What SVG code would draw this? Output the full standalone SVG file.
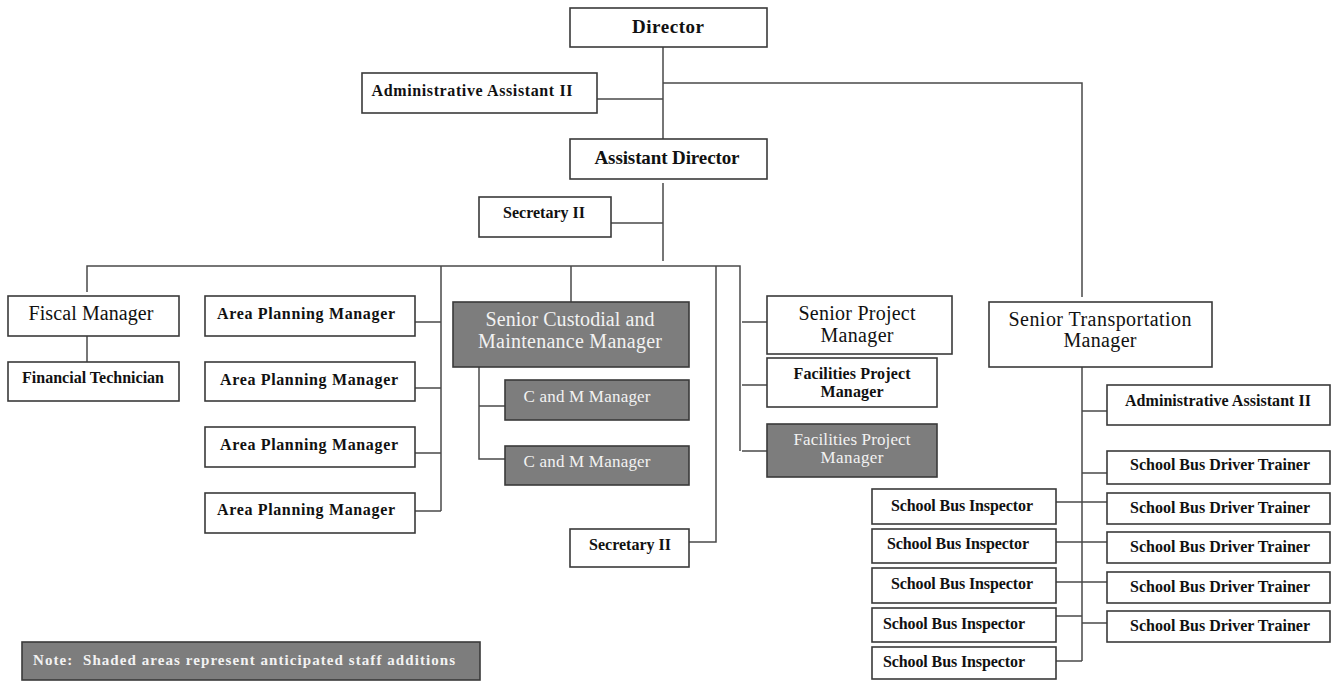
<svg xmlns="http://www.w3.org/2000/svg" width="1332" height="681" viewBox="0 0 1332 681">
<style>
.b{fill:#fff;stroke:#3a3a3a;stroke-width:1.6}
.s{fill:#7d7d7d;stroke:#3a3a3a;stroke-width:1.6}
.c{fill:none;stroke:#4a4a4a;stroke-width:1.5}
text{font-family:"Liberation Serif","Times New Roman",serif;text-anchor:middle;fill:#111}
.tb{font-weight:bold;font-size:16px}
.tl{font-size:20px}
.tw{fill:#f2f2f2}
</style>
<rect width="1332" height="681" fill="#fff"/>
<g id="connectors">
<path class="c" d="M663 47V139M597 99H663M663 83H1082V297"/>
<path class="c" d="M663 183V261M611 223H663"/>
<path class="c" d="M87 292V266H740V451"/>
<path class="c" d="M87 336V362"/>
<path class="c" d="M441 266V511M415 322H441M415 388H441M415 453H441M415 511H441"/>
<path class="c" d="M571 266V302M479 367V459H505M479 406H505"/>
<path class="c" d="M716 266V542H689"/>
<path class="c" d="M742 322H767M742 385H767M742 451H767"/>
<path class="c" d="M1082 367V661M1082 411H1107M1082 473H1107M1056 502H1107M1056 542H1107M1056 582H1107M1056 616H1082M1082 623H1107M1056 661H1082"/>
</g>
<g id="director"><rect class="b" x="570" y="8" width="197" height="39"/><text class="tb" style="font-size:19px" x="668" y="33" textLength="72">Director</text></g>
<g id="admin1"><rect class="b" x="362" y="73" width="235" height="40"/><text class="tb" x="472" y="96" textLength="201">Administrative Assistant II</text></g>
<g id="asstdir"><rect class="b" x="570" y="139" width="197" height="40"/><text class="tb" style="font-size:19px" x="667" y="164" textLength="145">Assistant Director</text></g>
<g id="sec1"><rect class="b" x="479" y="197" width="132" height="40"/><text class="tb" x="544" y="218" textLength="82">Secretary II</text></g>
<g id="fiscal"><rect class="b" x="8" y="296" width="171" height="40"/><text class="tl" x="91" y="320" textLength="125">Fiscal Manager</text></g>
<g id="fintech"><rect class="b" x="8" y="362" width="171" height="39"/><text class="tb" x="93" y="383" textLength="142">Financial Technician</text></g>
<g id="apm1"><rect class="b" x="205" y="296" width="210" height="40"/><text class="tb" x="306" y="319" textLength="178">Area Planning Manager</text></g>
<g id="apm2"><rect class="b" x="205" y="362" width="210" height="39"/><text class="tb" x="309" y="385" textLength="178">Area Planning Manager</text></g>
<g id="apm3"><rect class="b" x="205" y="427" width="210" height="40"/><text class="tb" x="309" y="450" textLength="178">Area Planning Manager</text></g>
<g id="apm4"><rect class="b" x="205" y="493" width="210" height="40"/><text class="tb" x="306" y="515" textLength="178">Area Planning Manager</text></g>
<g id="custodial"><rect class="s" x="453" y="302" width="236" height="65"/><text class="tl tw" x="570" y="326" textLength="169">Senior Custodial and</text><text class="tl tw" x="570" y="348" textLength="184">Maintenance Manager</text></g>
<g id="cm1"><rect class="s" x="505" y="380" width="184" height="40"/><text class="tw" style="font-size:17px" x="587" y="402" textLength="127">C and M Manager</text></g>
<g id="cm2"><rect class="s" x="505" y="446" width="184" height="39"/><text class="tw" style="font-size:17px" x="587" y="467" textLength="127">C and M Manager</text></g>
<g id="sec2"><rect class="b" x="570" y="529" width="119" height="38"/><text class="tb" x="630" y="550" textLength="82">Secretary II</text></g>
<g id="spm"><rect class="b" x="767" y="296" width="185" height="58"/><text class="tl" x="857" y="320" textLength="117">Senior Project</text><text class="tl" x="857" y="342" textLength="73">Manager</text></g>
<g id="fpm1"><rect class="b" x="767" y="358" width="170" height="49"/><text class="tb" x="852" y="379" textLength="117">Facilities Project</text><text class="tb" x="852" y="397" textLength="63">Manager</text></g>
<g id="fpm2"><rect class="s" x="767" y="424" width="170" height="53"/><text class="tw" style="font-size:17px" x="852" y="445" textLength="117">Facilities Project</text><text class="tw" style="font-size:17px" x="852" y="463" textLength="63">Manager</text></g>
<g id="stm"><rect class="b" x="989" y="302" width="223" height="65"/><text class="tl" x="1100" y="326" textLength="183">Senior Transportation</text><text class="tl" x="1100" y="347" textLength="73">Manager</text></g>
<g id="admin2"><rect class="b" x="1107" y="385" width="223" height="40"/><text class="tb" x="1218" y="406" textLength="186">Administrative Assistant II</text></g>
<g id="trainer1"><rect class="b" x="1107" y="451" width="223" height="33"/><text class="tb" x="1220" y="470" textLength="180">School Bus Driver Trainer</text></g>
<g id="trainer2"><rect class="b" x="1107" y="493" width="223" height="31"/><text class="tb" x="1220" y="513" textLength="180">School Bus Driver Trainer</text></g>
<g id="trainer3"><rect class="b" x="1107" y="532" width="223" height="31"/><text class="tb" x="1220" y="552" textLength="180">School Bus Driver Trainer</text></g>
<g id="trainer4"><rect class="b" x="1107" y="572" width="223" height="31"/><text class="tb" x="1220" y="592" textLength="180">School Bus Driver Trainer</text></g>
<g id="trainer5"><rect class="b" x="1107" y="611" width="223" height="31"/><text class="tb" x="1220" y="631" textLength="180">School Bus Driver Trainer</text></g>
<g id="insp1"><rect class="b" x="872" y="489" width="184" height="35"/><text class="tb" x="962" y="511" textLength="142">School Bus Inspector</text></g>
<g id="insp2"><rect class="b" x="872" y="529" width="184" height="34"/><text class="tb" x="958" y="549" textLength="142">School Bus Inspector</text></g>
<g id="insp3"><rect class="b" x="872" y="568" width="184" height="35"/><text class="tb" x="962" y="589" textLength="142">School Bus Inspector</text></g>
<g id="insp4"><rect class="b" x="872" y="608" width="184" height="34"/><text class="tb" x="954" y="629" textLength="142">School Bus Inspector</text></g>
<g id="insp5"><rect class="b" x="872" y="647" width="184" height="32"/><text class="tb" x="954" y="667" textLength="142">School Bus Inspector</text></g>
<g id="note"><rect class="s" x="22" y="642" width="458" height="38"/><text class="tb tw" style="font-size:15px;text-anchor:start" x="33" y="665" textLength="422">Note:&#160; Shaded areas represent anticipated staff additions</text></g>
</svg>
